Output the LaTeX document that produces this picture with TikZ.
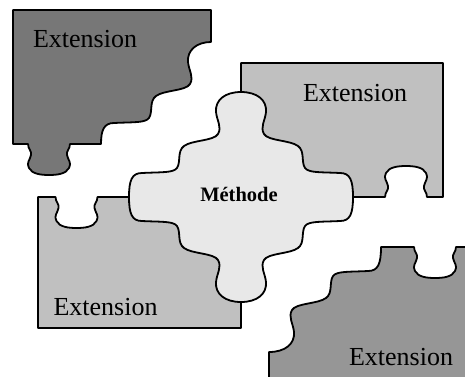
\documentclass[tikz,border=0pt]{standalone}
\usepackage{fontspec}
\setmainfont{Liberation Serif}
\definecolor{pdark}{HTML}{777777}
\definecolor{plight}{HTML}{C0C0C0}
\definecolor{pmid}{HTML}{969696}
\definecolor{pcenter}{HTML}{E8E8E8}
\tikzset{
  piece/.style={draw=black, line width=1.8pt, line join=round},
  exttext/.style={anchor=base, inner sep=0pt, font=\fontsize{26}{30}\selectfont},
  methtext/.style={anchor=base, inner sep=0pt, font=\fontsize{20.5}{24}\selectfont\bfseries}
}
\begin{document}
\begin{tikzpicture}[x=1pt,y=-1pt]
\useasboundingbox (0,0) rectangle (465,376);
\clip (0,0) rectangle (465,376);
% top-left piece
\path[piece, fill=pdark] (13,10) -- (211,10) -- (211,42)
  .. controls (197,42) and (187,50) .. (188,62)
  .. controls (189,71) and (194,77) .. (190,84)
  .. controls (186,91) and (164,90) .. (156,96)
  .. controls (149,101) and (153,112) .. (149,118)
  .. controls (145,123) and (134,122) .. (114,123)
  .. controls (104,123) and (101,130) .. (101,144)
  -- (70,144)
  .. controls (70,149) and (66,151) .. (67,155)
  .. controls (68,160) and (72,163) .. (69,168)
  .. controls (66,174) and (57,175) .. (49,175)
  .. controls (41,175) and (32,174) .. (29,168)
  .. controls (26,163) and (30,160) .. (31,155)
  .. controls (32,151) and (28,149) .. (28,144)
  -- (13,144) -- cycle;
% top-right piece
\path[piece, fill=plight] (241,63) -- (443,63) -- (443,197) -- (427,197)
  .. controls (427,192) and (423,190) .. (424,186)
  .. controls (425,181) and (429,178) .. (426,173)
  .. controls (423,167) and (414,166) .. (406,166)
  .. controls (398,166) and (389,167) .. (386,173)
  .. controls (383,178) and (387,181) .. (388,186)
  .. controls (389,190) and (385,192) .. (385,197)
  -- (241,197) -- cycle;
% bottom-left piece
\path[piece, fill=plight] (38,197) -- (55.5,197)
  .. controls (55.5,202) and (59.5,204) .. (58.5,208)
  .. controls (57.5,213) and (53.5,216) .. (56.5,221)
  .. controls (59.5,227) and (68.5,228) .. (76.5,228)
  .. controls (84.5,228) and (93.5,227) .. (96.5,221)
  .. controls (99.5,216) and (95.5,213) .. (94.5,208)
  .. controls (93.5,204) and (97.5,202) .. (97.5,197)
  -- (241,197) -- (241,328) -- (38,328) -- cycle;
% bottom-right piece
\path[piece, fill=pmid] (269,385) -- (269,352)
  .. controls (285,352) and (295,344) .. (294,332)
  .. controls (293,323) and (288,317) .. (292,310)
  .. controls (296,303) and (318,304) .. (326,298)
  .. controls (333,293) and (329,282) .. (333,276)
  .. controls (337,271) and (348,272) .. (368,271)
  .. controls (378,271) and (381,264) .. (381,247)
  -- (414,247)
  .. controls (414,252) and (418,254) .. (417,258)
  .. controls (416,263) and (412,266) .. (415,271)
  .. controls (418,277) and (427,278) .. (435,278)
  .. controls (443,278) and (452,277) .. (455,271)
  .. controls (458,266) and (454,263) .. (453,258)
  .. controls (452,254) and (456,252) .. (456,247)
  -- (475,247) -- (475,385) -- cycle;
% central piece
\path[piece, fill=pcenter, shift={(241,197)}] (0,-105)
  .. controls (16,-105) and (26,-97) .. (25,-85)
  .. controls (24,-76) and (19,-70) .. (23,-63)
  .. controls (27,-56) and (49,-57) .. (57,-51)
  .. controls (64,-46) and (60,-35) .. (64,-29)
  .. controls (68,-24) and (79,-25) .. (99,-24)
  .. controls (109,-24) and (112,-17) .. (112,0)
  .. controls (112,17) and (109,24) .. (99,24)
  .. controls (79,25) and (68,24) .. (64,29)
  .. controls (60,35) and (64,46) .. (57,51)
  .. controls (49,57) and (27,56) .. (23,63)
  .. controls (19,70) and (24,76) .. (25,85)
  .. controls (26,97) and (16,105) .. (0,105)
  .. controls (-16,105) and (-26,97) .. (-25,85)
  .. controls (-24,76) and (-19,70) .. (-23,63)
  .. controls (-27,56) and (-49,57) .. (-57,51)
  .. controls (-64,46) and (-60,35) .. (-64,29)
  .. controls (-68,24) and (-79,25) .. (-99,24)
  .. controls (-109,24) and (-112,17) .. (-112,0)
  .. controls (-112,-17) and (-109,-24) .. (-99,-24)
  .. controls (-79,-25) and (-68,-24) .. (-64,-29)
  .. controls (-60,-35) and (-64,-46) .. (-57,-51)
  .. controls (-49,-57) and (-27,-56) .. (-23,-63)
  .. controls (-19,-70) and (-24,-76) .. (-25,-85)
  .. controls (-26,-97) and (-16,-105) .. (0,-105) -- cycle;
% labels
\node[exttext] (tl) at (85,47) {Extension};
\node[exttext] (tr) at (355,101.7) {Extension};
\node[exttext] (bl) at (105.5,315.7) {Extension};
\node[exttext] (br) at (401,365) {Extension};
\node[methtext] (m) at (239,201.7) {Méthode};
\end{tikzpicture}
\end{document}
